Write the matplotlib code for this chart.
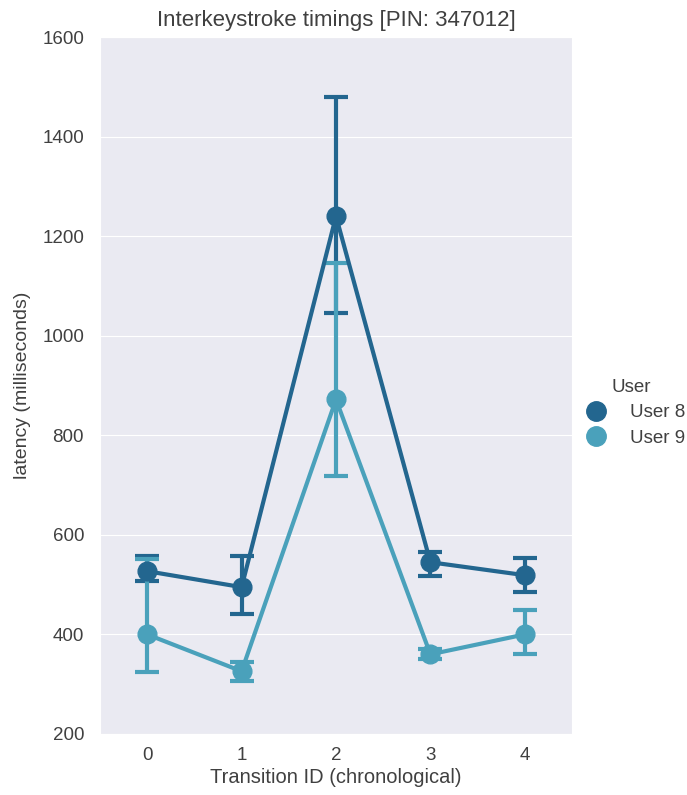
import numpy as np
import matplotlib.pyplot as plt
import seaborn as sns

# Mean latency per transition and bootstrapped CI bounds
transitions = [0, 1, 2, 3, 4]
users = ['User 8', 'User 9']
user8_mean = [527, 495, 1240, 545, 519]
user8_low = [508, 441, 1046, 517, 485]
user8_high = [557, 557, 1480, 565, 553]
user9_mean = [400, 326, 872, 360, 400]
user9_low = [324, 306, 718, 350, 360]
user9_high = [552, 344, 1147, 370, 450]

sns.set_style('darkgrid')
plt.rcParams['font.family'] = ['Liberation Sans', 'DejaVu Sans']

text_color = '#404040'
colors = ['#23668f', '#4aa1bb']
fig = plt.figure(figsize=(6.87, 7.95), dpi=100)
ax = fig.add_axes([100 / 687, 61 / 795, 472 / 687, 697 / 795])

series = [(user8_mean, user8_low, user8_high), (user9_mean, user9_low, user9_high)]
for name, c, (m, lo, hi) in zip(users, colors, series):
    m = np.array(m)
    yerr = [m - np.array(lo), np.array(hi) - m]
    ax.errorbar(transitions, m, yerr=yerr, color=c, lw=3, elinewidth=3,
                capsize=8.5, capthick=3, marker='o', markersize=13.5, label=name)

ax.set_xlim(-0.5, 4.5)
ax.set_ylim(200, 1600)
ax.set_xticks(transitions)
ax.grid(axis='x', visible=False)
ax.tick_params(labelsize=13.5, colors=text_color)
ax.tick_params(axis='x', pad=6)
ax.tick_params(axis='y', pad=8)
ax.set_xlabel('Transition ID (chronological)', fontsize=14.5, color=text_color, labelpad=3)
ax.set_ylabel('latency (milliseconds)', fontsize=14, color=text_color, labelpad=8)
ax.set_title('Interkeystroke timings [PIN: 347012]', fontsize=16, color=text_color, pad=8)

handles = [plt.Line2D([], [], ls='', marker='o', color=c, markersize=14) for c in colors]
leg = fig.legend(handles, users, title='User', loc='center left',
                 bbox_to_anchor=(570 / 687, 0.481), frameon=False, fontsize=13.5,
                 title_fontsize=13.5, handletextpad=0.8, borderaxespad=0,
                 labelspacing=0.45)
plt.setp(leg.get_texts(), color=text_color)
leg.get_title().set_color(text_color)

fig.savefig('out.png', dpi=100)
